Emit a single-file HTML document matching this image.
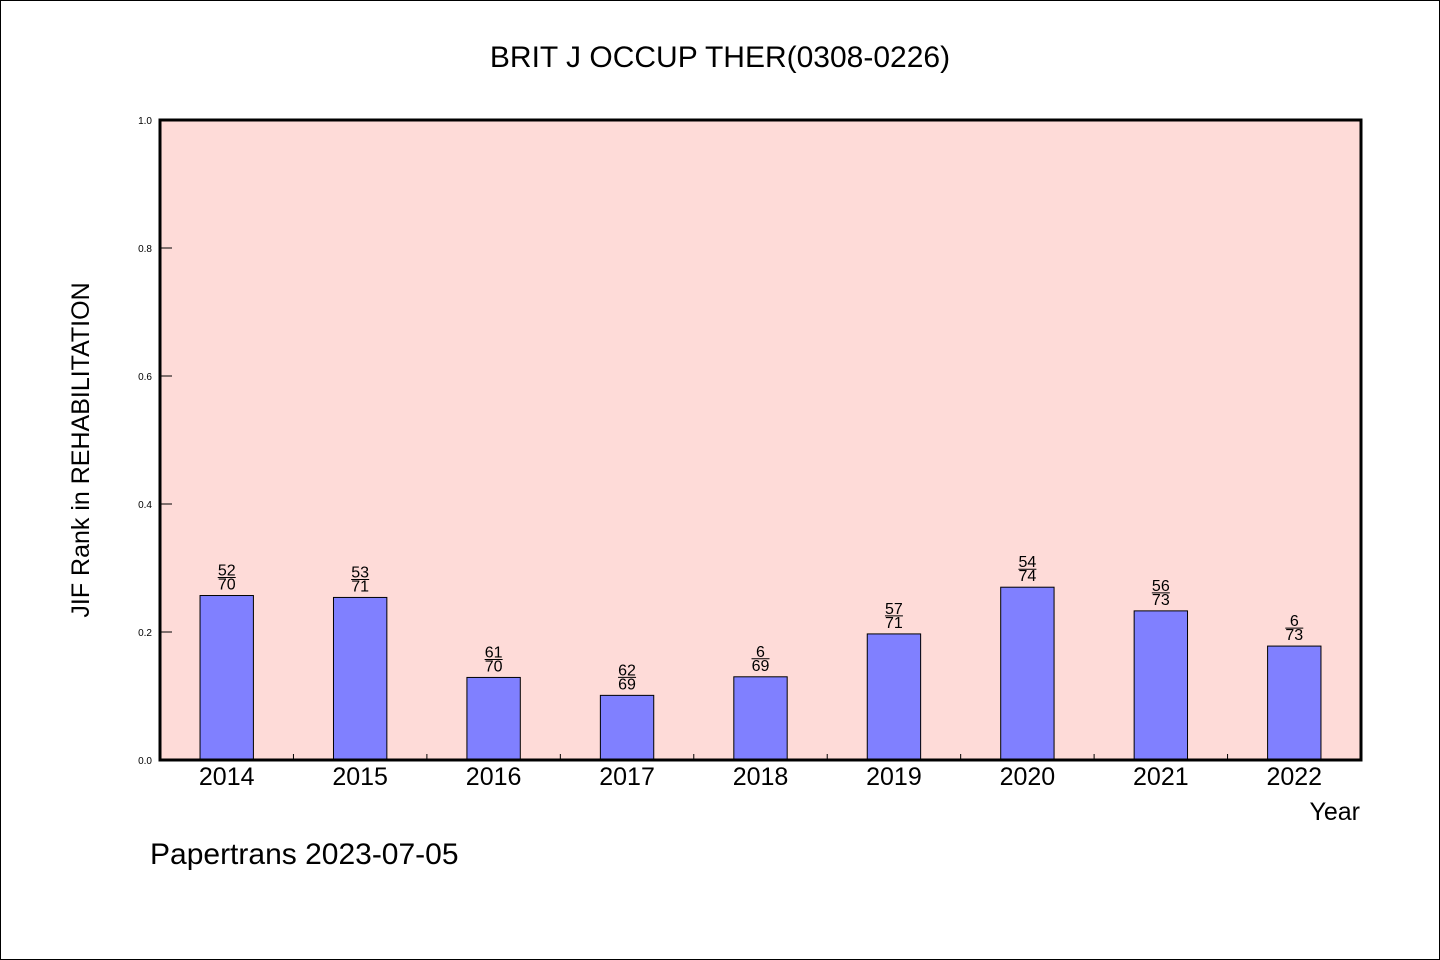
<!DOCTYPE html>
<html><head><meta charset="utf-8"><style>
body{margin:0;background:#fff}
svg{display:block;font-family:"WenQuanYi Zen Hei","Liberation Sans",sans-serif}
</style></head><body>
<svg width="1440" height="960" viewBox="0 0 1440 960">
<rect x="0.5" y="0.5" width="1439" height="959" fill="#fff" stroke="#000"/>
<text x="720" y="67" text-anchor="middle" font-size="30">BRIT J OCCUP THER(0308-0226)</text>
<rect x="160" y="120" width="1201" height="640" fill="#fedbd8"/>
<g id="bars"></g>
<rect x="160" y="120" width="1201" height="640" fill="none" stroke="#000" stroke-width="3"/>
<text transform="translate(89,450) rotate(-90)" text-anchor="middle" font-size="25">JIF Rank in REHABILITATION</text>
<text x="1360" y="820" text-anchor="end" font-size="25">Year</text>
<text x="150" y="864" font-size="30">Papertrans 2023-07-05</text>
</svg>
<script>
const years=["2014","2015","2016","2017","2018","2019","2020","2021","2022"];
const values=[0.257,0.254,0.129,0.101,0.130,0.197,0.270,0.233,0.178];
const ranks=["52","53","61","62","6","57","54","56","6"];
const totals=["70","71","70","69","69","71","74","73","73"];
const yTicks=[0,0.2,0.4,0.6,0.8,1.0];
const NS="http://www.w3.org/2000/svg";
const svg=document.querySelector('svg');const g=document.getElementById('bars');
const X0=160,W=1201,Y0=760,H=640;
const band=W/years.length;
const xc=i=>X0+band*(i+0.5);
const ys=v=>Y0-v*H;
function mk(t,a,p){const e=document.createElementNS(NS,t);for(const k in a)e.setAttribute(k,a[k]);(p||svg).appendChild(e);return e;}
yTicks.forEach(v=>{
const l=mk('line',{x1:X0,x2:X0+12,y1:ys(v),y2:ys(v),stroke:'#000'});


const t=mk('text',{x:X0-8,y:ys(v)+4,'text-anchor':'end','font-size':10});


t.textContent=v.toFixed(1);
});
years.forEach((y,i)=>{
const bw=band*0.4,top=ys(values[i]);
const r=mk('rect',{x:xc(i)-bw/2,y:top,width:bw,height:Y0-top,fill:'#8080ff',stroke:'#000','stroke-width':1},g);


if(i>0){const tk=mk('line',{x1:X0+band*i,x2:X0+band*i,y1:Y0,y2:Y0-6,stroke:'#000'});

}
const xl=mk('text',{x:xc(i),y:785,'text-anchor':'middle','font-size':25});


xl.textContent=y;
const a=mk('text',{x:xc(i),y:top-20,'text-anchor':'middle','font-size':16});


a.textContent=ranks[i];
const b=mk('text',{x:xc(i),y:top-6,'text-anchor':'middle','font-size':16});


b.textContent=totals[i];
const fl=mk('line',{x1:xc(i)-9,x2:xc(i)+9,y1:top-18,y2:top-18,stroke:'#000','stroke-width':1});


});
</script>
</body></html>
